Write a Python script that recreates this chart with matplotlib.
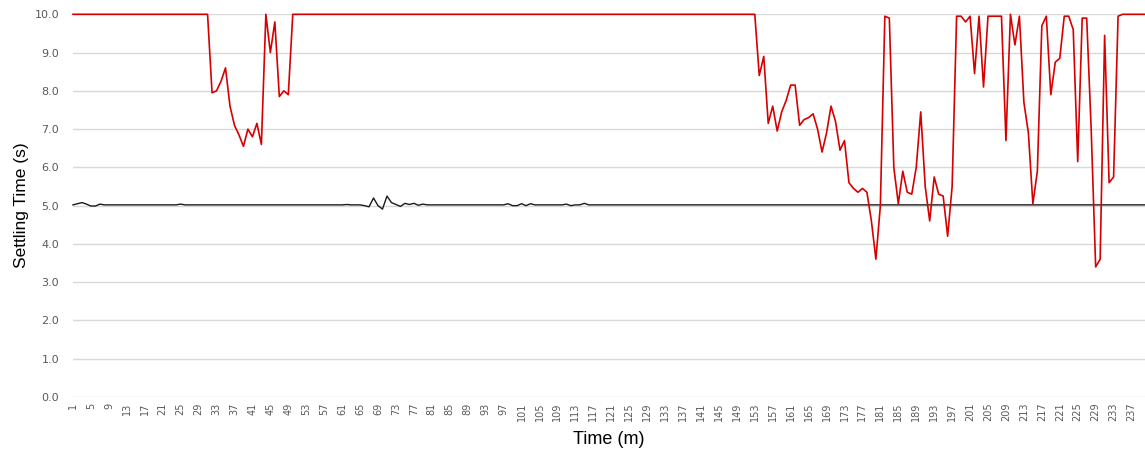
import matplotlib
matplotlib.use('Agg')
import matplotlib.pyplot as plt
import numpy as np

# time index 1..240
minutes = np.arange(1, 241)

# red series: settling time, piecewise by stretches
red_start = [10.0] * 31
red_dip1 = [7.95, 8.0, 8.25, 8.6, 7.6, 7.1, 6.85, 6.55, 7.0, 6.8, 7.15, 6.6,
            10.0, 9.0, 9.8, 7.85, 8.0, 7.9]
red_mid = [10.0] * 104
red_tail = [8.4, 8.9, 7.15, 7.6, 6.95, 7.45, 7.75, 8.15, 8.15, 7.1, 7.25, 7.3,
            7.4, 7.0, 6.4, 6.9, 7.6, 7.2, 6.45, 6.7, 5.6, 5.45, 5.35, 5.45,
            5.35, 4.6, 3.6, 5.0, 9.95, 9.9, 6.0, 5.05, 5.9, 5.35, 5.3, 6.0,
            7.45, 5.5, 4.6, 5.75, 5.3, 5.25, 4.2, 5.5, 9.95, 9.95, 9.8, 9.95,
            8.45, 9.95, 8.1, 9.95, 9.95, 9.95, 9.95, 6.7, 10.0, 9.2, 9.95, 7.7,
            6.9, 5.05, 5.9, 9.7, 9.95, 7.9, 8.75, 8.85, 9.95, 9.95, 9.6, 6.15,
            9.9, 9.9, 7.0, 3.4, 3.6, 9.45, 5.6, 5.75, 9.95]
red = red_start + red_dip1 + red_mid + red_tail
red = red + [10.0] * (240 - len(red))

# black series: stays near 5 s with small wiggles
black = [5.02] * 240
black_bumps = {2: 5.05, 3: 5.08, 4: 5.04, 5: 4.99, 6: 4.99, 7: 5.04,
               25: 5.04, 62: 5.03, 66: 5.0, 67: 4.97, 68: 5.2, 69: 5.0,
               70: 4.91, 71: 5.25, 72: 5.08, 73: 5.03, 74: 4.98, 75: 5.06,
               76: 5.03, 77: 5.06, 78: 5.01, 79: 5.04, 98: 5.05, 99: 5.0,
               100: 5.0, 101: 5.05, 102: 5.0, 103: 5.05, 111: 5.04,
               112: 5.0, 115: 5.06}
for k, v in black_bumps.items():
    black[k - 1] = v

fig = plt.figure(figsize=(11.45, 4.5), dpi=100)
ax = fig.add_axes([73 / 1145, 1 - 397 / 450, 1 - 73 / 1145, (397 - 14.3) / 450])

ax.plot(minutes, black, color='#1a1a1a', lw=1.0, clip_on=False, zorder=3)
ax.plot(minutes, red, color='#d60000', lw=1.2, clip_on=False, zorder=4)

ax.set_xlim(1, 240)
ax.set_ylim(0, 10)
ax.set_yticks(np.arange(0, 11, 1))
ax.set_yticklabels([f'{v:.1f}' for v in np.arange(0, 11, 1)])
xt = list(range(1, 241, 4))
ax.set_xticks(xt)
ax.set_xticklabels([str(t) for t in xt], rotation=90)

ax.grid(axis='y', color='#d9d9d9', lw=1.0)
ax.set_axisbelow(True)
for s in ax.spines.values():
    s.set_visible(False)
ax.tick_params(axis='both', length=0, colors='#595959')
ax.tick_params(axis='x', labelsize=7, pad=4)
ax.tick_params(axis='y', labelsize=8, pad=10)

ax.set_ylabel('Settling Time (s)', fontsize=12.5, family='Liberation Sans', labelpad=4)
ax.set_xlabel('Time (m)', fontsize=13, family='Liberation Sans', labelpad=7)

fig.savefig('out.png', dpi=100)
